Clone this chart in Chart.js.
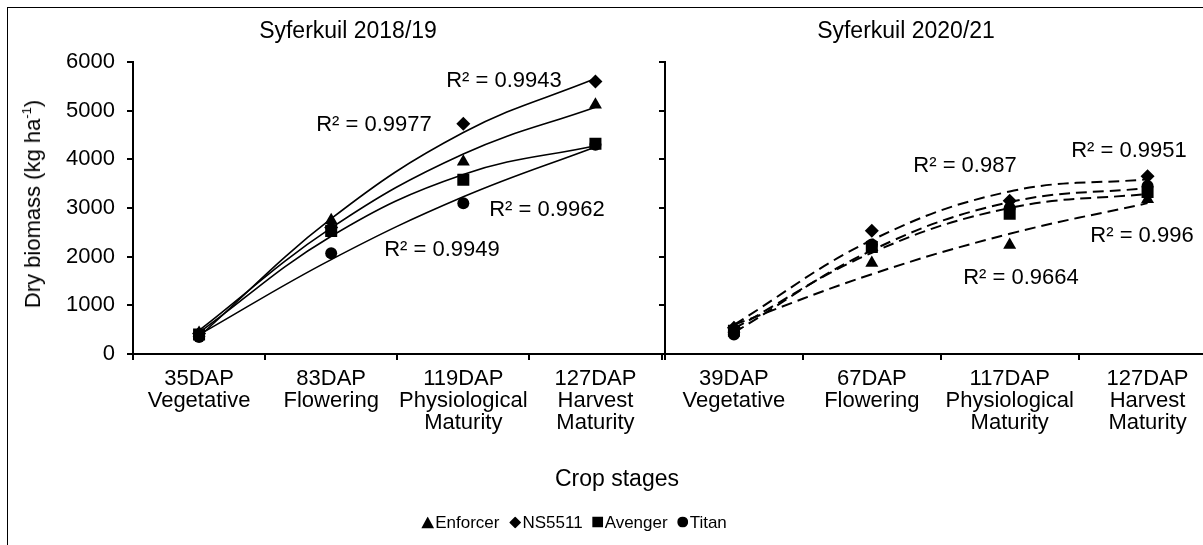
<!DOCTYPE html>
<html><head><meta charset="utf-8">
<script src="https://cdn.jsdelivr.net/npm/chart.js@4/dist/chart.umd.min.js"></script>
<style>
html,body{margin:0;padding:0;background:#fff;}
body{width:1203px;height:545px;position:relative;overflow:hidden;font-family:"Liberation Sans",Arial,sans-serif;color:#000;}
#frame{position:absolute;left:7px;top:7px;width:1400px;height:800px;border:1px solid #000;}
.t{position:absolute;white-space:nowrap;line-height:1;transform:translate(-50%,-50%);}
#ytitle{position:absolute;left:33px;top:204px;white-space:nowrap;font-size:22px;line-height:1;transform:translate(-50%,-50%) rotate(-90deg);}
#ytitle sup{font-size:13px;vertical-align:9px;line-height:0;}
#legend{position:absolute;left:574px;top:522px;transform:translate(-50%,-50%);white-space:nowrap;font-size:17px;line-height:1;display:flex;align-items:center;}
#legend span.it{display:inline-flex;align-items:center;margin:0 5px;}
#legend svg{margin-right:1px;}
</style></head><body>
<div id="frame"></div>
<canvas id="c1" width="670" height="545" style="position:absolute;left:0;top:0"></canvas>
<canvas id="c2" width="625" height="545" style="position:absolute;left:600px;top:0"></canvas>
<div class="t" style="left:348px;top:30px;font-size:23px">Syferkuil 2018/19</div>
<div class="t" style="left:906px;top:30px;font-size:23px">Syferkuil 2020/21</div>
<div id="ytitle">Dry biomass (kg ha<sup>-1</sup>)</div>
<div class="t" style="left:617px;top:478px;font-size:23px">Crop stages</div>
<div id="legend"></div>
<div id="r2"></div>
<script>
// ---- data ----
const stages1819 = [['35DAP','Vegetative'],['83DAP','Flowering'],['119DAP','Physiological','Maturity'],['127DAP','Harvest','Maturity']];
const stages2021 = [['39DAP','Vegetative'],['67DAP','Flowering'],['117DAP','Physiological','Maturity'],['127DAP','Harvest','Maturity']];
const cultivars = ['Enforcer','NS5511','Avenger','Titan'];
const yMin = 0, yMax = 6000, yStep = 1000;

// Syferkuil 2018/19 measured values
const enforcer1819 = [430, 2750, 3950, 5120];
const ns5511_1819  = [420, 2600, 4730, 5600];
const avenger1819  = [400, 2530, 3580, 4320];
const titan1819    = [350, 2070, 3100, 4300];
// 2018/19 trendline values at each stage
const enforcerTrend1819 = [485, 2590, 4110, 5070];
const ns5511Trend1819   = [360, 2780, 4550, 5660];
const avengerTrend1819  = [440, 2420, 3690, 4280];
const titanTrend1819    = [395, 1940, 3230, 4255];

// Syferkuil 2020/21 measured values
const enforcer2021 = [520, 1870, 2240, 3180];
const ns5511_2021  = [540, 2530, 3150, 3650];
const avenger2021  = [480, 2200, 2880, 3330];
const titan2021    = [400, 2250, 3000, 3450];
// 2020/21 trendline values at each stage
const enforcerTrend2021 = [600, 1640, 2470, 3100];
const ns5511Trend2021   = [600, 2340, 3340, 3590];
const avengerTrend2021  = [520, 2080, 3000, 3290];
const titanTrend2021    = [440, 2130, 3120, 3410];

const r2Labels1819 = ['R² = 0.9943','R² = 0.9977','R² = 0.9962','R² = 0.9949'];
const r2Labels2021 = ['R² = 0.987','R² = 0.9951','R² = 0.996','R² = 0.9664'];

// ---- styling / layout ----
const FONT = '"Liberation Sans", Arial, sans-serif';
const markerStyles = [
  {pointStyle:'triangle', r:7.5},
  {pointStyle:'rectRot', r:7},
  {pointStyle:'rect', r:8.5},
  {pointStyle:'circle', r:6}
];
const r2Pos1819 = [[504,80],[374,124],[547,209],[442,249]];
const r2Pos2021 = [[965,165],[1129,150],[1142,235],[1021,277]];

function markerSet(values, i){
  return {type:'line', data:values, showLine:false, order:0,
    pointStyle:markerStyles[i].pointStyle, pointRadius:markerStyles[i].r,
    pointBackgroundColor:'#000', pointBorderColor:'#000', pointBorderWidth:0, pointHoverRadius:markerStyles[i].r};
}
function trendSet(values, dashed){
  return {type:'line', data:values, order:1, borderColor:'#000', borderWidth: dashed?2:1.6,
    borderDash: dashed?[11,6]:[], pointRadius:0, fill:false, tension:0.4};
}

function makeChart(id, labels, series, trends, dashed, yWidth, padRight, showYLabels){
  const datasets = [];
  series.forEach((s,i)=>datasets.push(markerSet(s,i)));
  trends.forEach(t=>datasets.push(trendSet(t,dashed)));
  return new Chart(document.getElementById(id), {
    type:'line',
    data:{labels:labels, datasets:datasets},
    options:{
      responsive:false, animation:false, devicePixelRatio:1,
      layout:{padding:{top:62,right:padRight,bottom:0,left:0}},
      plugins:{legend:{display:false}, tooltip:{enabled:false}, title:{display:false}},
      scales:{
        x:{type:'category', offset:true,
          grid:{offset:true, drawOnChartArea:false, drawTicks:true, tickLength:6, color:'#000', lineWidth:2},
          border:{display:true, color:'#000', width:2},
          ticks:{color:'#000', font:{family:FONT, size:22, lineHeight:1.0}, padding:8, maxRotation:0, minRotation:0, autoSkip:false},
          afterFit:(s)=>{s.height = 191;}
        },
        y:{min:yMin, max:yMax,
          grid:{drawOnChartArea:false, drawTicks:true, tickLength:6, color:'#000', lineWidth:2},
          border:{display:true, color:'#000', width:2},
          ticks:{stepSize:yStep, color:'#000', font:{family:FONT, size:22}, padding:12,
            callback:(v)=> showYLabels ? String(v) : ''},
          afterFit:(s)=>{s.width = yWidth;}
        }
      }
    }
  });
}

makeChart('c1', stages1819,
  [enforcer1819, ns5511_1819, avenger1819, titan1819],
  [enforcerTrend1819, ns5511Trend1819, avengerTrend1819, titanTrend1819],
  false, 133, 5, true);
makeChart('c2', stages2021,
  [enforcer2021, ns5511_2021, avenger2021, titan2021],
  [enforcerTrend2021, ns5511Trend2021, avengerTrend2021, titanTrend2021],
  true, 65, 8, false);

// R² labels
const r2 = document.getElementById('r2');
function addLabels(texts, pos){
  texts.forEach((t,i)=>{
    const d=document.createElement('div'); d.className='t';
    d.style.left=pos[i][0]+'px'; d.style.top=pos[i][1]+'px'; d.style.fontSize='22px';
    d.textContent=t; r2.appendChild(d);
  });
}
addLabels(r2Labels1819, r2Pos1819);
addLabels(r2Labels2021, r2Pos2021);

// legend
const shapes = [
  '<svg width="13" height="12" viewBox="0 0 13 12"><polygon points="6.5,0 13,12 0,12" fill="#000"/></svg>',
  '<svg width="12" height="12" viewBox="0 0 12 12"><polygon points="6,0 12,6 6,12 0,6" fill="#000"/></svg>',
  '<svg width="11" height="11" viewBox="0 0 11 11"><rect x="0" y="0" width="11" height="11" fill="#000"/></svg>',
  '<svg width="11" height="11" viewBox="0 0 11 11"><circle cx="5.5" cy="5.5" r="5.5" fill="#000"/></svg>'
];
document.getElementById('legend').innerHTML = cultivars.map((c,i)=>'<span class="it">'+shapes[i]+'<span>'+c+'</span></span>').join('');
</script>
</body></html>
